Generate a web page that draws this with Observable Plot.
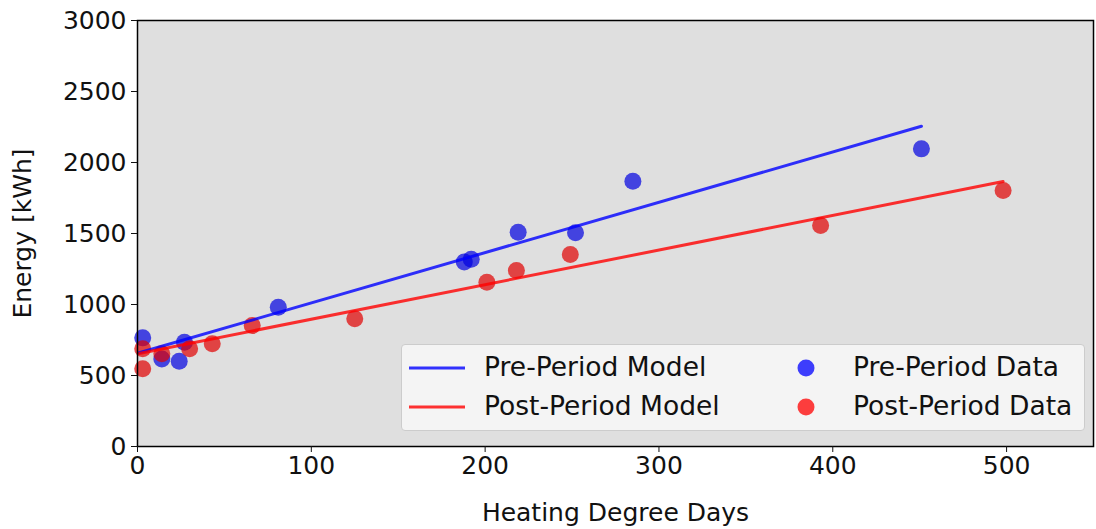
<!DOCTYPE html>
<html>
<head>
<meta charset="utf-8">
<script src="https://cdn.jsdelivr.net/npm/d3@7"></script>
<script src="https://cdn.jsdelivr.net/npm/@observablehq/plot@0.6"></script>
<style>
  html, body { margin: 0; padding: 0; background: #fff; }
  #wrap { position: relative; width: 1096px; height: 529px; font-family: "DejaVu Sans", sans-serif; }
  #legend { position: absolute; left: 401px; top: 344px; width: 684px; height: 87px;
    background: rgba(248,248,248,0.85); border: 1px solid #cccccc; border-radius: 4px; box-sizing: border-box; }
  .lg { position: absolute; font-size: 26.5px; color: #111; line-height: 1; white-space: nowrap; }
  .sw { position: absolute; }
</style>
</head>
<body>
<div id="wrap"></div>
<script>
// Data
const preHdd  = [3, 14, 24, 27, 81, 188, 192, 219, 252, 285, 451];
const preKwh  = [765, 616, 601, 734, 981, 1300, 1318, 1509, 1505, 1868, 2096];
const postHdd = [3, 3, 14, 30, 43, 66, 125, 201, 218, 249, 393, 498];
const postKwh = [688, 547, 653, 688, 723, 852, 899, 1157, 1239, 1352, 1556, 1803];
const preModelHdd  = [1, 451];
const preModelKwh  = [660, 2255];
const postModelHdd = [1, 498];
const postModelKwh = [655, 1866];
const xTicks = [0, 100, 200, 300, 400, 500];
const yTicks = [0, 500, 1000, 1500, 2000, 2500, 3000];
const seriesNames = ["Pre-Period Model", "Post-Period Model", "Pre-Period Data", "Post-Period Data"];

const pre = preHdd.map((x, i) => ({x, y: preKwh[i]}));
const post = postHdd.map((x, i) => ({x, y: postKwh[i]}));
const preM = preModelHdd.map((x, i) => ({x, y: preModelKwh[i]}));
const postM = postModelHdd.map((x, i) => ({x, y: postModelKwh[i]}));

const chart = Plot.plot({
  width: 1096,
  height: 529,
  marginLeft: 137,
  marginRight: 3,
  marginTop: 20,
  marginBottom: 83,
  style: {fontFamily: "DejaVu Sans, sans-serif", fontSize: "25px", color: "#111", background: "transparent"},
  x: {domain: [0, 550]},
  y: {domain: [0, 3000]},
  marks: [
    Plot.frame({fill: "#dfdfdf"}),
    Plot.dot(pre, {x: "x", y: "y", r: 8.5, fill: "#0000e0", fillOpacity: 0.7, stroke: "none"}),
    Plot.dot(post, {x: "x", y: "y", r: 8.5, fill: "#e00000", fillOpacity: 0.7, stroke: "none"}),
    Plot.line(preM, {x: "x", y: "y", stroke: "#0000ff", strokeOpacity: 0.8, strokeWidth: 3}),
    Plot.line(postM, {x: "x", y: "y", stroke: "#ff0000", strokeOpacity: 0.8, strokeWidth: 3}),
    Plot.frame({stroke: "black", strokeWidth: 1.5}),
    Plot.axisX({ticks: xTicks, tickFormat: d => String(d), tickSize: 6, tickPadding: 4, fontSize: 25,
      label: "Heating Degree Days", labelAnchor: "center", labelArrow: "none", labelOffset: 74}),
    Plot.axisY({ticks: yTicks, tickFormat: d => String(d), tickSize: 6, tickPadding: 5, fontSize: 25,
      label: "Energy [kWh]", labelAnchor: "center", labelArrow: "none", labelOffset: 124})
  ]
});
const wrap = document.getElementById("wrap");
wrap.appendChild(chart);

// Legend (HTML overlay)
const legend = document.createElement("div");
legend.id = "legend";
legend.innerHTML = `
  <svg class="sw" style="left:5px;top:20px" width="60" height="6"><line x1="2" y1="3" x2="58" y2="3" stroke="#0000ff" stroke-opacity="0.8" stroke-width="3"/></svg>
  <div class="lg" style="left:82px;top:9px">${seriesNames[0]}</div>
  <svg class="sw" style="left:5px;top:59px" width="60" height="6"><line x1="2" y1="3" x2="58" y2="3" stroke="#ff0000" stroke-opacity="0.8" stroke-width="3"/></svg>
  <div class="lg" style="left:82px;top:48px">${seriesNames[1]}</div>
  <svg class="sw" style="left:394px;top:13px" width="20" height="20"><circle cx="10" cy="10" r="8.5" fill="#0000ff" fill-opacity="0.75"/></svg>
  <div class="lg" style="left:451px;top:9px">${seriesNames[2]}</div>
  <svg class="sw" style="left:394px;top:52px" width="20" height="20"><circle cx="10" cy="10" r="8.5" fill="#ff0000" fill-opacity="0.75"/></svg>
  <div class="lg" style="left:451px;top:48px">${seriesNames[3]}</div>
`;
wrap.appendChild(legend);
</script>
</body>
</html>
